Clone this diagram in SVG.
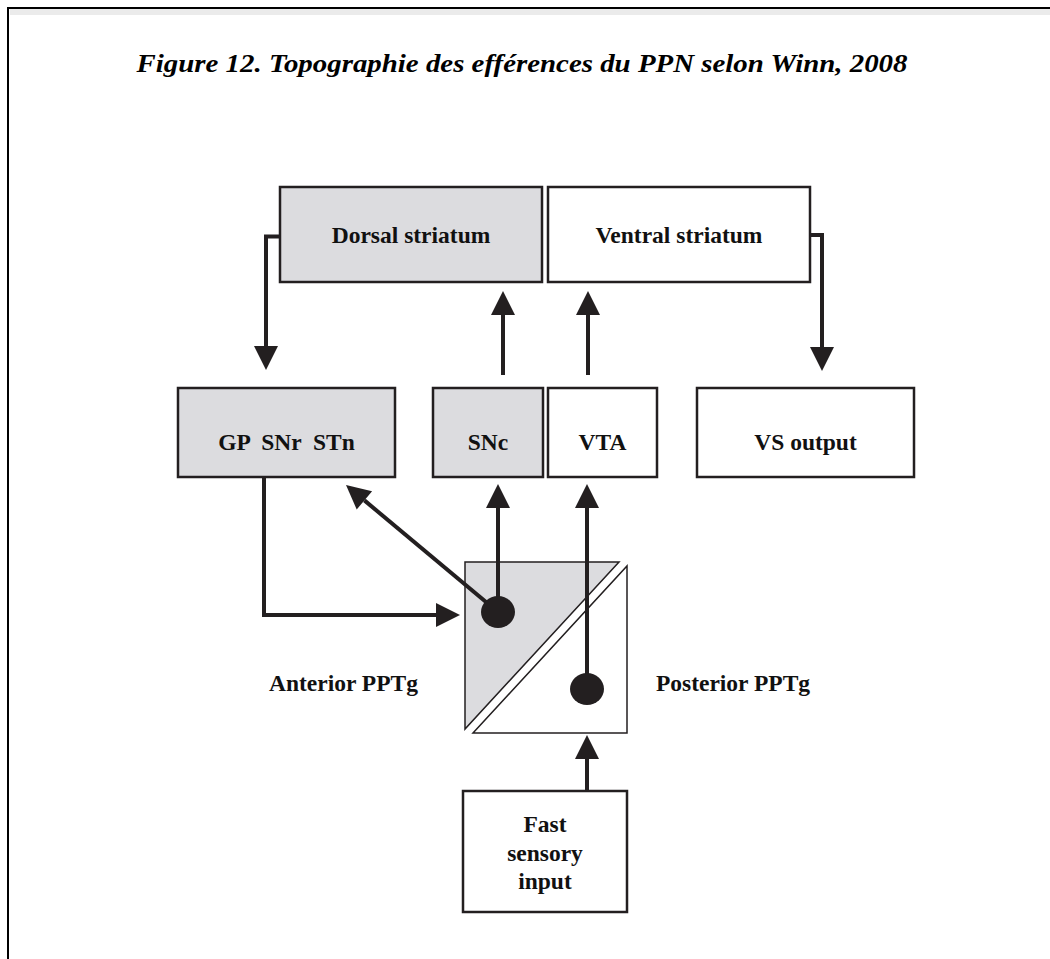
<svg xmlns="http://www.w3.org/2000/svg" width="1050" height="959" viewBox="0 0 1050 959">
<style>
.box{stroke:#231f20;stroke-width:2.5}
.grey{fill:#dcdcdf}
.white{fill:#ffffff}
.lbl{font-family:"Liberation Serif","Times New Roman",serif;font-weight:bold;font-size:23.5px;fill:#111;text-anchor:middle}
.title{font-family:"Liberation Serif","Times New Roman",serif;font-weight:bold;font-style:italic;font-size:26px;fill:#000;text-anchor:middle}
.conn{fill:none;stroke:#231f20;stroke-width:4}
.dot{fill:#231f20}
</style>
<defs>
<marker id="ah" markerUnits="userSpaceOnUse" markerWidth="24" markerHeight="24" refX="0" refY="12" orient="auto" overflow="visible">
<path d="M0,0 L24,12 L0,24 Z" fill="#231f20"/>
</marker>
</defs>
<rect width="1050" height="959" fill="#ffffff"/>
<g id="frame">
<line x1="10" y1="12" x2="1050" y2="12" stroke="#000" stroke-opacity="0.08" stroke-width="6"/>
<path d="M8,959 V8 H1050" fill="none" stroke="#000" stroke-width="2"/>
</g>
<text class="title" x="522" y="72" textLength="771" lengthAdjust="spacingAndGlyphs">Figure 12. Topographie des efférences du PPN selon Winn, 2008</text>

<g id="dorsal-striatum">
<rect class="box grey" x="280" y="187" width="262" height="95"/>
<text class="lbl" x="411" y="243">Dorsal striatum</text>
</g>
<g id="ventral-striatum">
<rect class="box white" x="548" y="187" width="262" height="95"/>
<text class="lbl" x="679" y="243">Ventral striatum</text>
</g>
<g id="gp-snr-stn">
<rect class="box grey" x="178" y="388" width="217" height="89"/>
<text class="lbl" x="286.5" y="450" xml:space="preserve">GP  SNr  STn</text>
</g>
<g id="snc">
<rect class="box grey" x="433" y="388" width="110" height="89"/>
<text class="lbl" x="488" y="450">SNc</text>
</g>
<g id="vta">
<rect class="box white" x="548" y="388" width="109" height="89"/>
<text class="lbl" x="602.5" y="450">VTA</text>
</g>
<g id="vs-output">
<rect class="box white" x="697" y="388" width="217" height="89"/>
<text class="lbl" x="805.5" y="450">VS output</text>
</g>
<g id="pptg">
<path d="M465,562 L619,562 L465,729 Z" fill="#dcdcdf" stroke="#231f20" stroke-width="1.5"/>
<path d="M627,566 L627,733 L473,733 Z" fill="#ffffff" stroke="#231f20" stroke-width="1.5"/>
</g>
<g id="anterior-pptg-label">
<text class="lbl" x="343.5" y="691">Anterior PPTg</text>
</g>
<g id="posterior-pptg-label">
<text class="lbl" x="733" y="691">Posterior PPTg</text>
</g>
<g id="fast-sensory-input">
<rect class="box white" x="463" y="791" width="164" height="121"/>
<text class="lbl" x="545" y="832">Fast</text>
<text class="lbl" x="545" y="861">sensory</text>
<text class="lbl" x="545" y="889">input</text>
</g>

<g id="connectors">
<path class="conn" d="M280,236.5 H266 V346" marker-end="url(#ah)"/>
<path class="conn" d="M810,235 H822 V347" marker-end="url(#ah)"/>
<path class="conn" d="M503,375 V315" marker-end="url(#ah)"/>
<path class="conn" d="M588,375 V315" marker-end="url(#ah)"/>
<path class="conn" d="M264,477 V615 H436" marker-end="url(#ah)"/>
<path class="conn" d="M498,612 L364.4,500.4" marker-end="url(#ah)"/>
<path class="conn" d="M498,612 V508" marker-end="url(#ah)"/>
<path class="conn" d="M587,689 V508" marker-end="url(#ah)"/>
<path class="conn" d="M587,791 V759" marker-end="url(#ah)"/>
<ellipse class="dot" cx="498" cy="612" rx="17" ry="16"/>
<ellipse class="dot" cx="587" cy="689" rx="17" ry="16"/>
</g>
</svg>
